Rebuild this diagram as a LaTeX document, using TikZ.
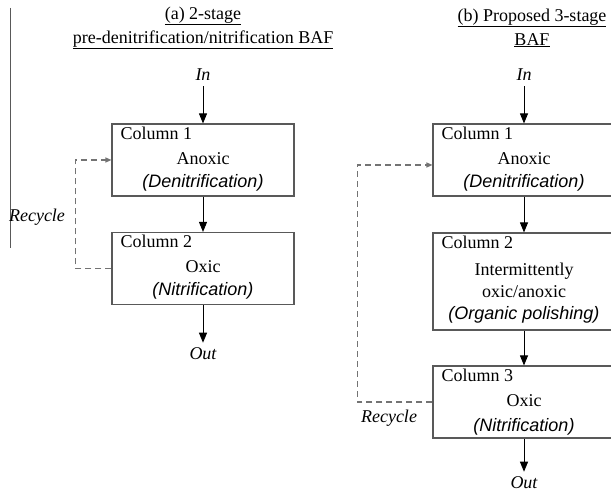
\documentclass[tikz,border=0pt]{standalone}
\usepackage{fontspec}
\setmainfont{Liberation Serif}
\newfontfamily\arialfont{Liberation Sans}
\usetikzlibrary{arrows.meta,positioning}
\tikzset{
	colbox/.style={draw=black!65, line width=1.1pt, minimum width=182pt, inner sep=0pt},
	coltag/.style={anchor=north west, inner sep=0pt},
	lbl/.style={inner sep=0pt, align=center},
	io/.style={inner sep=5pt, font=\fontsize{18}{20}\selectfont\itshape},
	flow/.style={-{Triangle[length=10pt,width=8pt]}, line width=0.9pt},
	recyc/.style={-{Triangle[length=6pt,width=5pt]}, dash pattern=on 6pt off 4pt,
			draw=black!55, line width=1.1pt}
}
\newcommand{\procname}[1]{{\arialfont\itshape #1}}

\begin{document}
\begin{tikzpicture}[x=1pt, y=-1pt, font=\fontsize{18}{23}\selectfont]
			\useasboundingbox (0,0) rectangle (611,494);
			\clip (0,0) rectangle (611,494);
			% Separator
			\draw[black!65, line width=1pt] (10,8) -- (10,248);
			% Titles
			\node[lbl, font=\fontsize{18}{24}\selectfont] (titleA) at (203,28)
				{\underline{(a) 2-stage}\\\underline{pre-denitrification/nitrification BAF}};
			\node[lbl, font=\fontsize{18}{24}\selectfont] (titleB) at (532,28)
				{\underline{(b) Proposed 3-stage}\\\underline{BAF}};
			% (a) two columns
			\node[io] (inA) at (203,75) {In};
			\node[colbox, minimum height=72pt] (a1) at (203,160) {};
			\node[colbox, minimum height=72pt] (a2) at (203,268.5) {};
			\node[io] (outA) at (203,354) {Out};
			\node[coltag] (a1tag) at ([xshift=9pt, yshift=-3pt]a1.north west) {Column 1};
			\node[lbl] (a1txt) at (203,172) {Anoxic\\\procname{(Denitrification)}};
			\node[coltag] (a2tag) at ([xshift=9pt, yshift=-3pt]a2.north west) {Column 2};
			\node[lbl] (a2txt) at (203,280) {Oxic\\\procname{(Nitrification)}};
			\draw[flow] (inA) -- (a1);
			\draw[flow] (a1) -- (a2);
			\draw[flow] (a2) -- (outA);
			\draw[recyc] (a2.west) -- ++(-36,0) |- (a1.west);
			\node[lbl, font=\fontsize{18}{20}\selectfont\itshape] (recA) at (37,217) {Recycle};
			% (b) three columns
			\node[io] (inB) at (524,75) {In};
			\node[colbox, minimum height=72pt] (b1) at (524,160) {};
			\node[colbox, minimum height=97pt] (b2) at (524,281.5) {};
			\node[colbox, minimum height=72pt] (b3) at (524,402) {};
			\node[io] (outB) at (524,483) {Out};
			\node[coltag] (b1tag) at ([xshift=9pt, yshift=-3pt]b1.north west) {Column 1};
			\node[lbl] (b1txt) at (524,172) {Anoxic\\\procname{(Denitrification)}};
			\node[coltag] (b2tag) at ([xshift=9pt, yshift=-3pt]b2.north west) {Column 2};
			\node[lbl, font=\fontsize{18}{22}\selectfont] (b2txt) at (524,293)
				{Intermittently\\oxic/anoxic\\\procname{(Organic polishing)}};
			\node[coltag] (b3tag) at ([xshift=9pt, yshift=-3pt]b3.north west) {Column 3};
			\node[lbl, font=\fontsize{18}{25}\selectfont] (b3txt) at (524,415) {Oxic\\\procname{(Nitrification)}};
			\draw[flow] (inB) -- (b1);
			\draw[flow] (b1) -- (b2);
			\draw[flow] (b2) -- (b3);
			\draw[flow] (b3) -- (outB);
			\draw[recyc] (b3.west) -- ++(-75,0) |- ([yshift=-5pt]b1.west);
			\node[lbl, font=\fontsize{18}{20}\selectfont\itshape] (recB) at (389,418) {Recycle};
		\end{tikzpicture}
\end{document}
